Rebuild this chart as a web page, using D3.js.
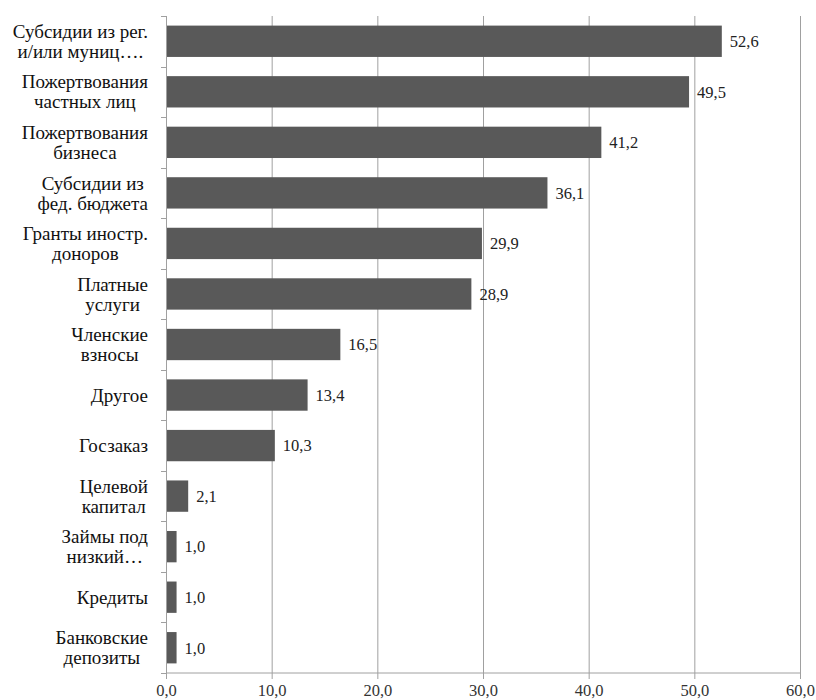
<!DOCTYPE html>
<html>
<head>
<meta charset="utf-8">
<script src="https://cdn.jsdelivr.net/npm/d3@7"></script>
<style>
  html, body { margin: 0; padding: 0; background: #fff; }
  svg { display: block; }
</style>
</head>
<body>
<svg id="chart" width="816" height="700"></svg>
<script>
// Sources of funding, share of organisations (%)
const categories = [
  "Субсидии из рег.\nи/или муниц….",
  "Пожертвования\nчастных лиц",
  "Пожертвования\nбизнеса",
  "Субсидии из\nфед. бюджета",
  "Гранты иностр.\nдоноров",
  "Платные\nуслуги",
  "Членские\nвзносы",
  "Другое",
  "Госзаказ",
  "Целевой\nкапитал",
  "Займы под\nнизкий…",
  "Кредиты",
  "Банковские\nдепозиты"
];
const values = [52.6, 49.5, 41.2, 36.1, 29.9, 28.9, 16.5, 13.4, 10.3, 2.1, 1.0, 1.0, 1.0];
const xTicks = [0, 10, 20, 30, 40, 50, 60];

const FONT = '"Liberation Serif", "Times New Roman", serif';
const margin = { top: 16, right: 16, bottom: 27, left: 166 };
const width = 816, height = 700;
const svg = d3.select("#chart");
const innerH = height - margin.top - margin.bottom;

const x = d3.scaleLinear().domain([0, 60]).range([0, 634]);
const y = d3.scaleBand().domain(d3.range(categories.length)).range([0, innerH])
  .paddingInner(0.38).paddingOuter(0.19);
const fmt = v => d3.format(".1f")(v).replace(".", ",");

const g = svg.append("g").attr("transform", `translate(${margin.left},${margin.top})`);

// vertical gridlines
g.append("g").selectAll("line").data(xTicks.slice(1)).join("line")
  .attr("x1", d => x(d) + 0.5).attr("x2", d => x(d) + 0.5)
  .attr("y1", 0).attr("y2", innerH)
  .attr("stroke", "#a0a0a0").attr("stroke-width", 1);

// bars
g.append("g").selectAll("rect").data(values).join("rect")
  .attr("x", x(0) + 1)
  .attr("y", (d, i) => y(i))
  .attr("width", d => x(d) - x(0) - 1)
  .attr("height", y.bandwidth())
  .attr("fill", "#595959");

// value labels
g.append("g").selectAll("text").data(values).join("text")
  .attr("x", d => x(d) + 8)
  .attr("y", (d, i) => y(i) + y.bandwidth() / 2)
  .attr("dy", "0.35em")
  .attr("font-size", 16.5)
  .attr("fill", "#222")
  .style("font-family", FONT)
  .text(d => fmt(d));

// x axis
const xAxis = g.append("g").attr("transform", `translate(0,${innerH})`)
  .call(d3.axisBottom(x).tickValues(xTicks).tickFormat(fmt).tickSize(6).tickPadding(5));
xAxis.attr("font-family", null);
xAxis.select(".domain").attr("stroke", "#a0a0a0").attr("d", `M0.5,0H${x(60) + 0.5}`);
xAxis.selectAll(".tick line").attr("stroke", "#a0a0a0");
xAxis.selectAll(".tick text").attr("font-size", 16.5).attr("fill", "#333")
  .style("font-family", FONT);

// y axis with category boundary ticks
const bounds = d3.range(categories.length + 1).map(i => i * innerH / categories.length);
g.append("line").attr("x1", 0.5).attr("x2", 0.5).attr("y1", 0).attr("y2", innerH)
  .attr("stroke", "#a0a0a0");
g.append("g").selectAll("line").data(bounds).join("line")
  .attr("x1", -5).attr("x2", 0.5)
  .attr("y1", d => Math.round(d) + 0.5).attr("y2", d => Math.round(d) + 0.5)
  .attr("stroke", "#a0a0a0");

// category labels: each line its own text, lines centred within a right-aligned block
const labelRight = -18;
const lineH = 20;
const labelG = g.append("g");
categories.forEach((c, i) => {
  const lines = c.split("\n");
  const cy = y(i) + y.bandwidth() / 2;
  const nodes = lines.map((ln, k) => labelG.append("text")
    .attr("font-size", 19)
    .attr("fill", "#111")
    .attr("text-anchor", "middle")
    .attr("y", cy + (k - (lines.length - 1) / 2) * lineH)
    .attr("dy", "0.35em")
    .style("font-family", FONT)
    .text(ln));
  const w = d3.max(nodes, n => n.node().getComputedTextLength());
  nodes.forEach(n => n.attr("x", labelRight - w / 2));
});
</script>
</body>
</html>
